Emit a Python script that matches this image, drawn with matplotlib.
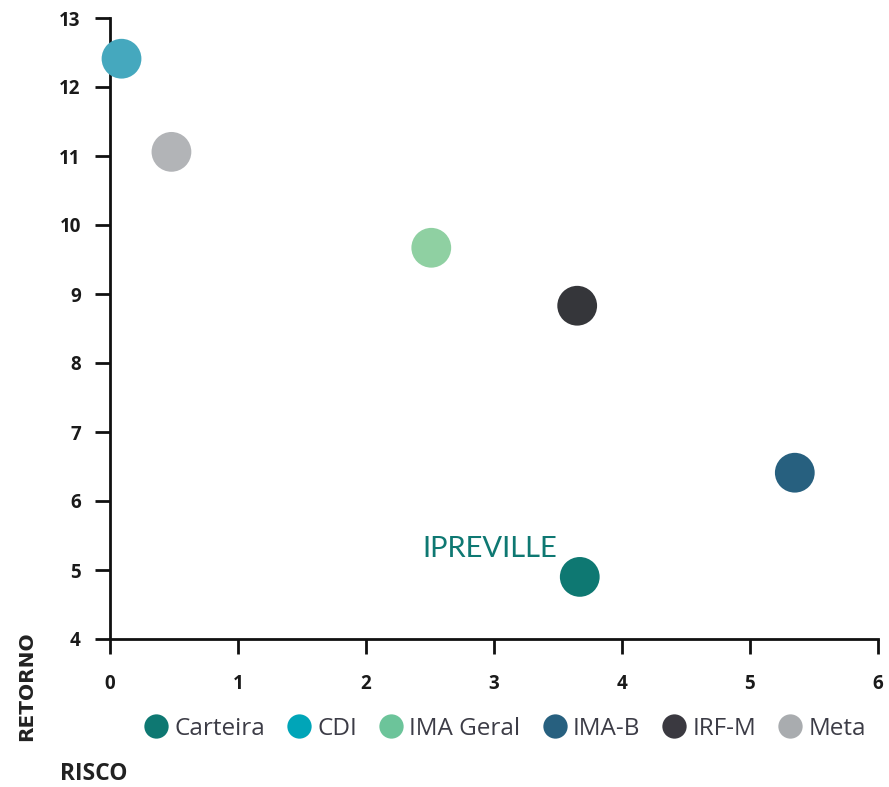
import matplotlib
matplotlib.use("Agg")
import matplotlib.pyplot as plt
from matplotlib.lines import Line2D

names = ["Carteira", "CDI", "IMA Geral", "IMA-B", "IRF-M", "Meta"]
risco = [3.67, 0.09, 2.51, 5.35, 3.65, 0.48]
retorno = [4.90, 12.41, 9.67, 6.41, 8.83, 11.06]
point_colors = ["#0e7872", "#45a8be", "#8fd0a2", "#27607f", "#35363a", "#b2b4b7"]
legend_colors = ["#0e7872", "#00a5b8", "#6cc49a", "#27607f", "#3a3940", "#a9acaf"]
x_ticks = [0, 1, 2, 3, 4, 5, 6]
y_ticks = [4, 5, 6, 7, 8, 9, 10, 11, 12, 13]
label_text = "IPREVILLE"

fig = plt.figure(figsize=(8.89, 7.87), dpi=100)
ax = fig.add_axes([110/889, 1-639/787, (878-110)/889, (639-18)/787])

for x, y, c in zip(risco, retorno, point_colors):
    ax.scatter([x], [y], s=820, color=c, edgecolors="none", zorder=3, clip_on=False)

ax.annotate(label_text, (risco[0], retorno[0]), xytext=(-16, 14), textcoords="offset points",
            ha="right", va="baseline", fontsize=21, color="#0e7872", family="Lato")

ax.set_xlim(0, 6)
ax.set_ylim(4, 13)
ax.set_xticks(x_ticks)
ax.set_yticks(y_ticks)
for s in ["top", "right"]:
    ax.spines[s].set_visible(False)
for s in ["left", "bottom"]:
    ax.spines[s].set_linewidth(2)
    ax.spines[s].set_color("#111111")
ax.tick_params(axis="both", direction="out", length=11, width=2, color="#111111")
ax.tick_params(axis="y", pad=10)
ax.tick_params(axis="x", pad=14)
for lbl in ax.get_xticklabels() + ax.get_yticklabels():
    lbl.set_fontfamily("Open Sans")
    lbl.set_fontweight("bold")
    lbl.set_fontsize(13.5)
    lbl.set_color("#1a1a1a")

handles = [Line2D([], [], marker="o", linestyle="none", markersize=17.5,
                  markerfacecolor=c, markeredgecolor="none") for c in legend_colors]
leg = fig.legend(handles, names, loc="center", bbox_to_anchor=(505/889, 1-729/787), ncol=6,
                 frameon=False, handletextpad=0.25, columnspacing=0.9, handlelength=1.0,
                 borderpad=0, borderaxespad=0,
                 prop={"family": "Open Sans", "size": 17.5})
for t in leg.get_texts():
    t.set_color("#3c3c46")

fig.text(26.5/889, 1-686/787, "RETORNO", rotation=90, ha="center", va="center",
         fontsize=14.5, fontweight="bold", family="DejaVu Sans", color="#222222")
fig.text(93.5/889, 1-774.5/787, "RISCO", ha="center", va="center",
         fontsize=16.5, fontweight="bold", family="Open Sans", color="#222222")

fig.savefig("out.png", dpi=100)
